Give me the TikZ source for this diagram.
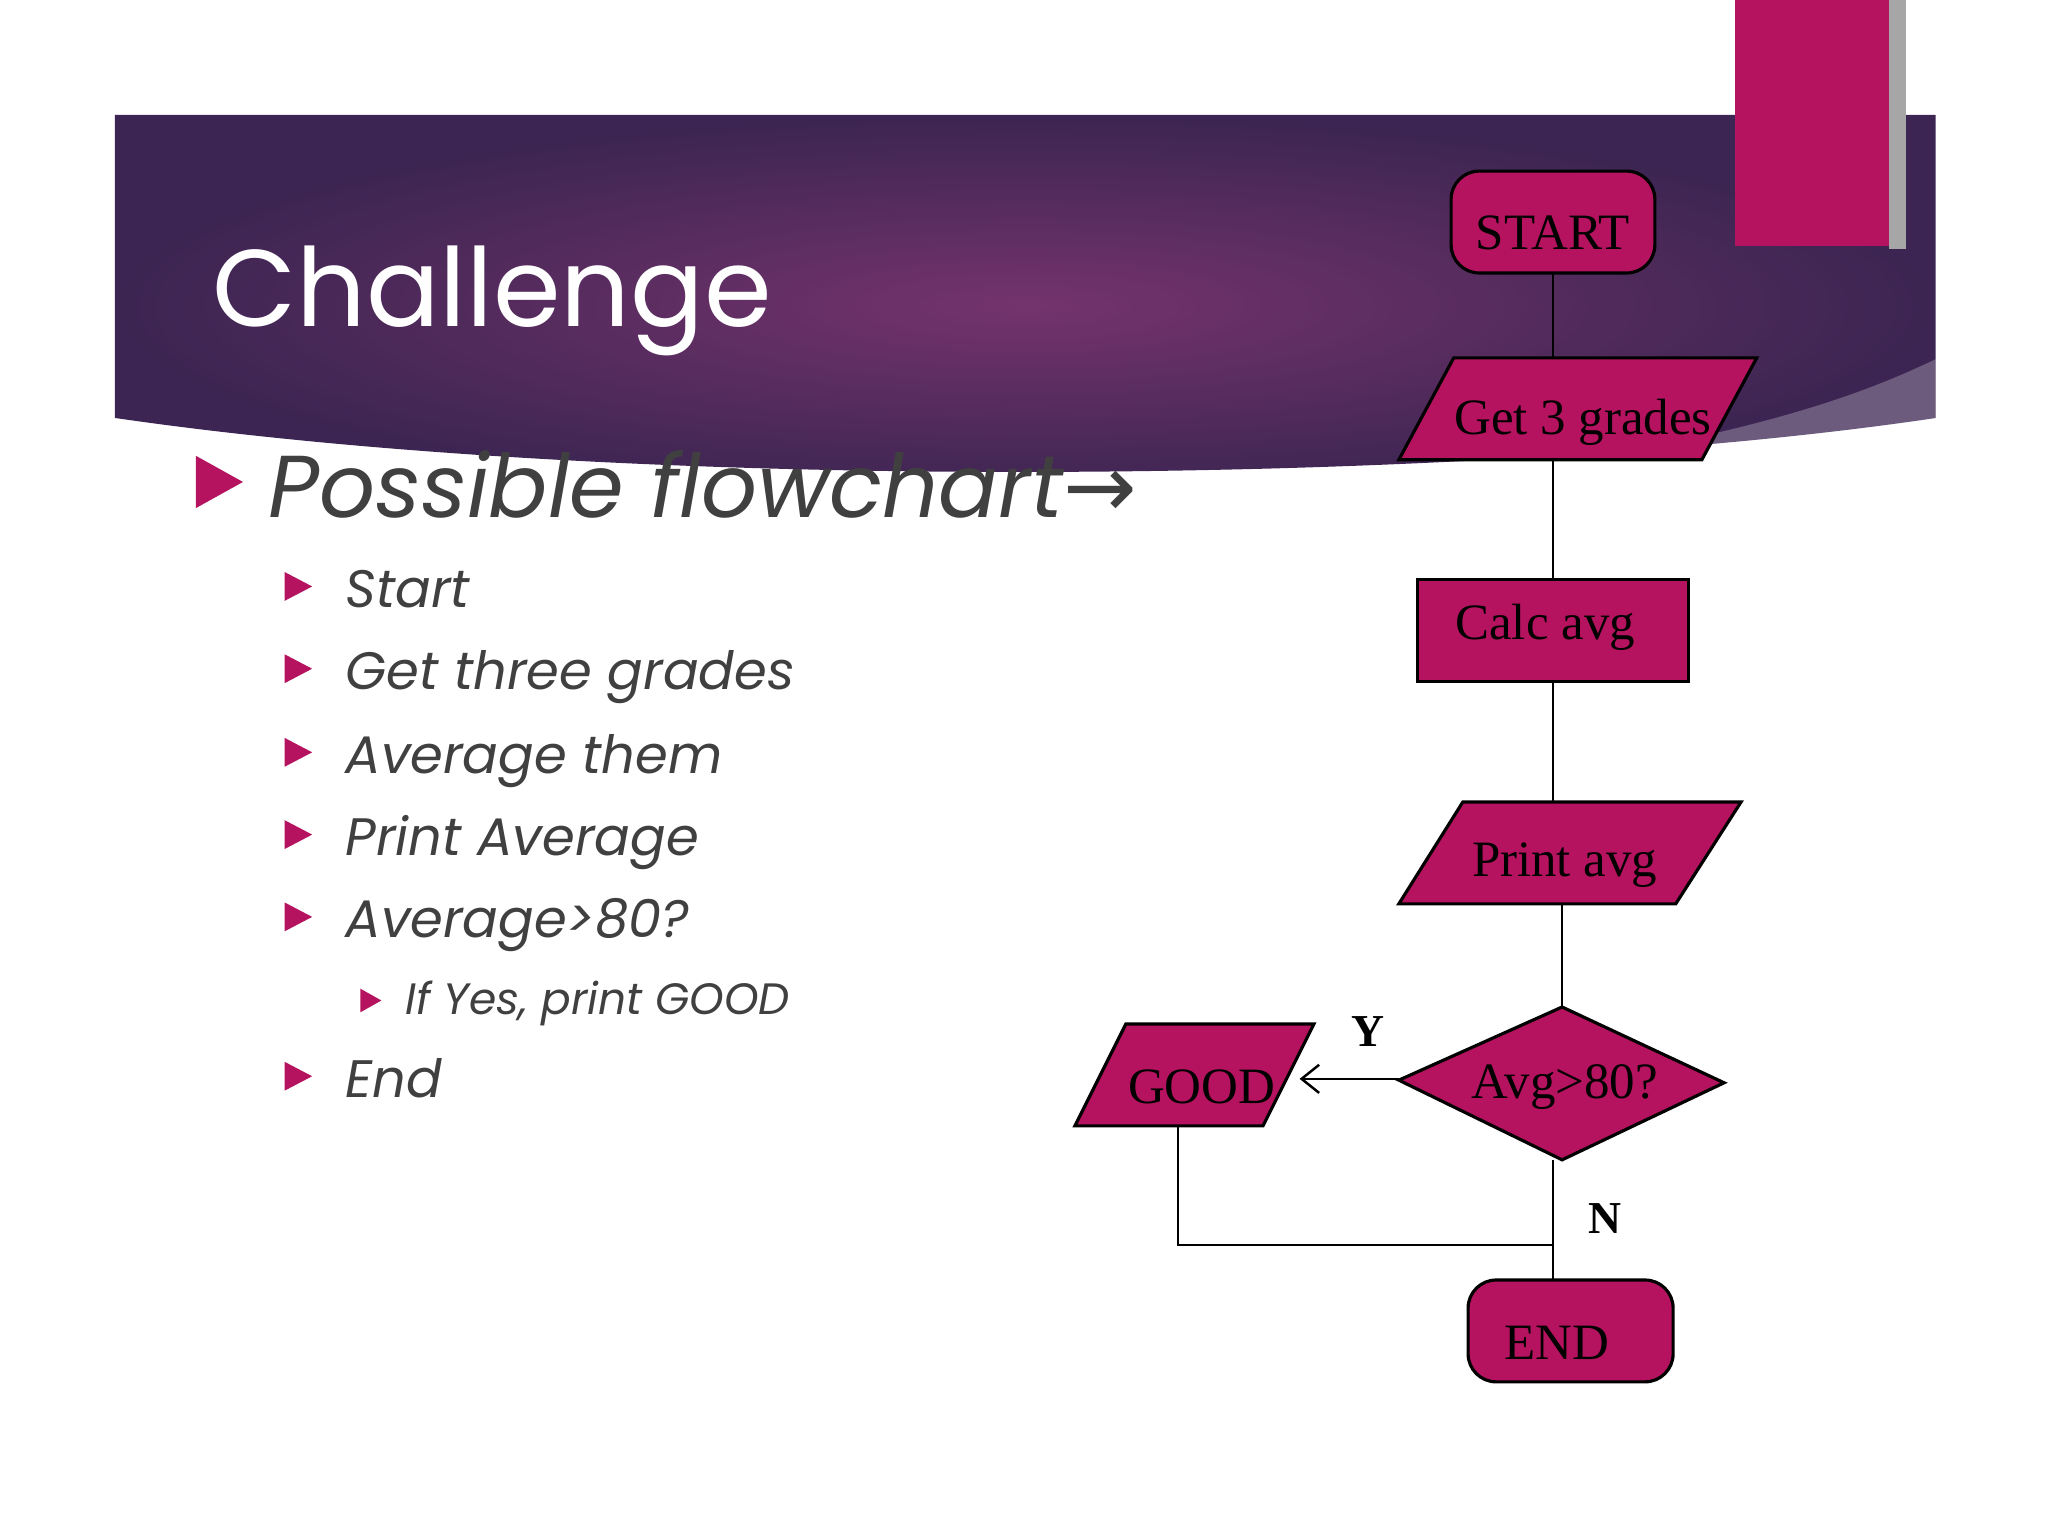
\documentclass[tikz,border=0pt]{standalone}
\usepackage{fontspec}
\setmainfont{Liberation Serif}
\newfontfamily\slidefont{Poppins}
\usetikzlibrary{arrows.meta}
\definecolor{mag}{HTML}{B5135F}
\definecolor{txtgray}{HTML}{404040}
\definecolor{bandark}{HTML}{3C2552}
\definecolor{banlight}{HTML}{74336C}
\tikzset{
  fc/.style={draw=black,fill=mag,line width=0.9pt},
  fctext/.style={font=\fontsize{14.5}{16}\selectfont,text=black,inner sep=0pt},
  lbl/.style={font=\bfseries\fontsize{13}{15}\selectfont,inner sep=0pt},
  conn/.style={draw=black,line width=0.7pt},
  tri/.style={fill=mag,draw=none},
  bul/.style={anchor=base west,inner sep=0pt,text=txtgray,font=\slidefont\itshape\fontsize{15}{18}\selectfont},
}
\begin{document}
\begin{tikzpicture}[x=0.013061cm,y=-0.013061cm]
\useasboundingbox (0,0) rectangle (1568,1176);
\fill[white] (0,0) rectangle (1568,1176);
% banner
\shade[inner color=banlight,outer color=bandark] (88,88) -- (1482,88) -- (1482,320) .. controls (1150,370) and (500,380) .. (88,320) -- cycle;
\fill[white,opacity=0.25] (1250,345) .. controls (1380,320) and (1440,295) .. (1482,275) -- (1482,320) .. controls (1400,333) and (1320,342) .. (1250,345) -- cycle;
% top right block
\fill[gray!70] (1446,0) rectangle (1459,191);
\fill[mag] (1328,0) rectangle (1446,188);
% title
\node[anchor=base west,inner sep=0pt,text=white,font=\slidefont\fontsize{31}{36}\selectfont] (title) at (162,250) {Challenge};
% main bullet
\fill[tri] (150,349) -- (186,369) -- (150,389) -- cycle;
\node[anchor=base west,inner sep=0pt,text=txtgray,font=\slidefont\itshape\fontsize{25}{30}\selectfont] (pf) at (205,396) {Possible flowchart\fontspec{DejaVu Sans}\itshape →};
% sub bullets
\foreach \t/\yy in {Start/465, Get three grades/528, Average them/592, Print Average/655, Average>80?/718, End/840}{
  \fill[tri] (218,\yy-27) -- (239,\yy-16) -- (218,\yy-5) -- cycle;
  \node[bul] at (264,\yy) {\t};
}
\fill[tri] (276,757) -- (292,766) -- (276,775) -- cycle;
\node[bul,font=\slidefont\itshape\fontsize{12.5}{15}\selectfont] (ify) at (310,777) {If Yes, print GOOD};
% flowchart
\draw[fc,rounded corners=8] (1111,131) rectangle (1267,209);
\node[fctext] (start) at (1189,178) {START};
\draw[fc] (1113,274) -- (1345,274) -- (1303,352) -- (1071,352) -- cycle;
\node[fctext] (get) at (1212,323) {Get 3 grades};
\draw[fc] (1085,444) rectangle (1293,522);
\node[fctext] (calc) at (1183,480) {Calc avg};
\draw[fc] (1120,614) -- (1333,614) -- (1283,692) -- (1071,692) -- cycle;
\node[fctext] (print) at (1198,662) {Print avg};
\draw[fc] (1196,771) -- (1320,829) -- (1196,888) -- (1071,827) -- cycle;
\node[fctext] (dec) at (1198,832) {Avg>80?};
\draw[fc] (862,784) -- (1006,784) -- (967,862) -- (823,862) -- cycle;
\node[fctext] (good) at (920,832) {GOOD};
\draw[fc,rounded corners=8] (1124,980) rectangle (1281,1058);
\node[fctext] (end) at (1192,1028) {END};
% connectors
\coordinate (s1) at (1189,209); \coordinate (s2) at (1189,274);
\coordinate (g1) at (1189,352); \coordinate (g2) at (1189,444);
\coordinate (c1) at (1189,522); \coordinate (c2) at (1189,614);
\coordinate (p1) at (1196,692); \coordinate (p2) at (1196,771);
\coordinate (d1) at (1189,888); \coordinate (e1) at (1189,980);
\coordinate (dl) at (1071,826); \coordinate (gr) at (995,826);
\coordinate (gb) at (902,862); \coordinate (gc) at (902,953); \coordinate (jc) at (1189,953);
\draw[conn] (s1) -- (s2);
\draw[conn] (g1) -- (g2);
\draw[conn] (c1) -- (c2);
\draw[conn] (p1) -- (p2);
\draw[conn] (d1) -- (e1);
\draw[conn,-{Straight Barb[length=5pt,width=8pt]}] (dl) -- (gr);
\draw[conn] (gb) -- (gc) -- (jc);
\node[lbl] (y) at (1047,790) {Y};
\node[lbl] (n) at (1229,933) {N};
\end{tikzpicture}
\end{document}
